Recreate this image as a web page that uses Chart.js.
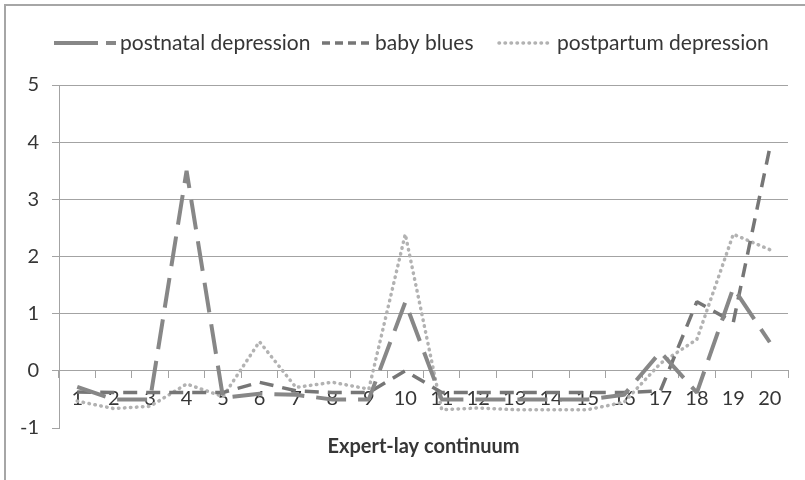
<!DOCTYPE html>
<html>
<head>
<meta charset="utf-8">
<script src="https://cdn.jsdelivr.net/npm/chart.js@4.4.1/dist/chart.umd.min.js"></script>
<style>
  html, body { margin: 0; padding: 0; background: #ffffff; }
  #wrap { width: 805px; height: 480px; }
</style>
</head>
<body>
<div id="wrap"><canvas id="chart" width="805" height="480"></canvas></div>
<script>
// Positions along the expert-lay continuum
const categories = ['1', '2', '3', '4', '5', '6', '7', '8', '9', '10',
                    '11', '12', '13', '14', '15', '16', '17', '18', '19', '20'];

// Series values
const postnatalDepression = [-0.28, -0.5, -0.5, 3.5, -0.47, -0.4, -0.42, -0.5, -0.5, 1.2,
                             -0.5, -0.5, -0.5, -0.5, -0.5, -0.42, 0.33, -0.38, 1.45, 0.5];
const babyBlues = [-0.37, -0.38, -0.38, -0.38, -0.38, -0.2, -0.35, -0.38, -0.38, 0.0,
                   -0.38, -0.38, -0.38, -0.38, -0.38, -0.38, -0.35, 1.21, 0.85, 3.9];
const postpartumDepression = [-0.53, -0.66, -0.62, -0.23, -0.45, 0.51, -0.29, -0.2, -0.32, 2.39,
                              -0.68, -0.65, -0.68, -0.68, -0.68, -0.55, 0.13, 0.55, 2.39, 2.12];

// Value axis ticks
const yTicks = [-1, 0, 1, 2, 3, 4, 5];

const seriesNames = ['postnatal depression', 'baby blues', 'postpartum depression'];

const FONT = 'Lato';
const AXIS_GREY = '#a3a3a3';
const TEXT = '#363636';

// Outer frame and white background
const framePlugin = {
  id: 'frame',
  beforeDraw(chart) {
    const ctx = chart.ctx;
    ctx.save();
    ctx.fillStyle = '#ffffff';
    ctx.fillRect(0, 0, chart.width, chart.height);
    ctx.strokeStyle = '#a6a6a6';
    ctx.lineWidth = 2;
    ctx.strokeRect(5, 5, chart.width + 20, chart.height + 20);
    ctx.restore();
  }
};

// Legend row across the top; each key uses its dataset's colour and width
const legendRow = {
  id: 'legendRow',
  afterDraw(chart) {
    const ctx = chart.ctx;
    const items = [
      { sx: 54, sw: 62, tx: 120, dash: [44, 8] },
      { sx: 322, sw: 48, tx: 375, dash: [8, 5] },
      { sx: 499, sw: 54, tx: 557, dash: [0.5, 5.5] }
    ];
    const y = 43;
    ctx.save();
    chart.data.datasets.forEach((ds, i) => {
      const it = items[i];
      ctx.beginPath();
      ctx.strokeStyle = ds.borderColor;
      ctx.lineWidth = ds.borderWidth;
      ctx.lineCap = ds.borderCapStyle || 'butt';
      ctx.setLineDash(it.dash);
      ctx.moveTo(it.sx, y);
      ctx.lineTo(it.sx + it.sw, y);
      ctx.stroke();
      ctx.setLineDash([]);
      ctx.fillStyle = TEXT;
      ctx.font = '21px ' + FONT;
      ctx.textBaseline = 'middle';
      ctx.textAlign = 'left';
      ctx.fillText(ds.label, it.tx, y);
    });
    ctx.restore();
  }
};

new Chart(document.getElementById('chart'), {
  type: 'line',
  data: {
    labels: categories,
    datasets: [
      {
        label: seriesNames[0],
        data: postnatalDepression,
        borderColor: '#878787',
        borderWidth: 4,
        borderDash: [30, 12],
        borderCapStyle: 'butt',
        borderJoinStyle: 'bevel',
        pointRadius: 0,
        tension: 0,
        fill: false
      },
      {
        label: seriesNames[1],
        data: babyBlues,
        borderColor: '#767676',
        borderWidth: 3.5,
        borderDash: [14, 9],
        borderCapStyle: 'butt',
        borderJoinStyle: 'bevel',
        pointRadius: 0,
        tension: 0,
        fill: false
      },
      {
        label: seriesNames[2],
        data: postpartumDepression,
        borderColor: '#b2b2b2',
        borderWidth: 3.5,
        borderDash: [0.5, 5.5],
        borderCapStyle: 'round',
        borderJoinStyle: 'round',
        pointRadius: 0,
        tension: 0,
        fill: false
      }
    ]
  },
  options: {
    responsive: false,
    animation: false,
    devicePixelRatio: 1,
    layout: { padding: { top: 85, right: 17, bottom: 0, left: 0 } },
    plugins: {
      legend: { display: false },
      tooltip: { enabled: false }
    },
    scales: {
      x: {
        type: 'category',
        position: { y: 0 },
        offset: true,
        grid: {
          offset: true,
          drawOnChartArea: false,
          drawTicks: true,
          tickLength: 7,
          color: AXIS_GREY,
          tickColor: AXIS_GREY
        },
        border: { display: true, color: AXIS_GREY, width: 1 },
        ticks: {
          padding: 9,
          color: TEXT,
          autoSkip: false,
          maxRotation: 0,
          font: { family: FONT, size: 20 }
        }
      },
      xTitle: {
        type: 'category',
        axis: 'x',
        position: 'bottom',
        offset: true,
        grid: { display: false, drawTicks: false },
        border: { display: false },
        ticks: { display: false },
        title: {
          display: true,
          text: 'Expert-lay continuum',
          color: TEXT,
          font: { family: FONT, size: 20, weight: 'bold' },
          padding: { top: 0, bottom: 21 }
        },
        afterFit(scale) { scale.height = 52; }
      },
      y: {
        min: -1,
        max: 5,
        afterBuildTicks(scale) { scale.ticks = yTicks.map(v => ({ value: v })); },
        grid: {
          color: ctx => (ctx.tick && ctx.tick.value === -1) ? 'rgba(0,0,0,0)' : AXIS_GREY,
          tickColor: AXIS_GREY,
          tickLength: 7,
          lineWidth: 1
        },
        border: { display: true, color: AXIS_GREY, width: 1 },
        ticks: {
          padding: 13,
          color: TEXT,
          font: { family: FONT, size: 20 }
        },
        afterFit(scale) { scale.width = 59; }
      }
    }
  },
  plugins: [framePlugin, legendRow]
});
</script>
</body>
</html>
